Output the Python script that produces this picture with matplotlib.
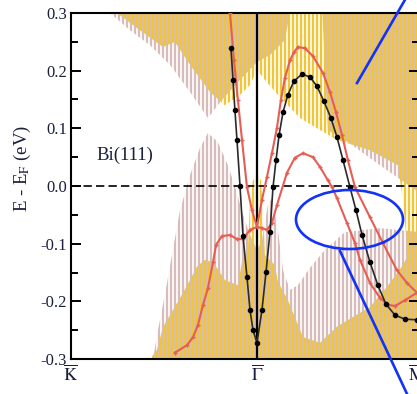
import numpy as np
import matplotlib
matplotlib.use('Agg')
import matplotlib.pyplot as plt
from matplotlib.patches import Polygon, Ellipse
from matplotlib.lines import Line2D

plt.rcParams['font.family'] = ['Liberation Serif', 'DejaVu Serif']
plt.rcParams['mathtext.fontset'] = 'stix'

# k in 1/A (Gamma = 0), energies E - E_F in eV
kK, kG, kM = -0.80, 0.0, 0.688
xtick_k = [kK, kG, kM]
xtick_lab = [r'$\overline{\mathrm{K}}$', r'$\overline{\Gamma}$', r'$\overline{\mathrm{M}}$']
ytick_e = [-0.3, -0.2, -0.1, 0.0, 0.1, 0.2, 0.3]
ytick_lab = ['-0.3', '-0.2', '-0.1', '0.0', '0.1', '0.2', '0.3']

# black surface band
black_k = [-0.112, -0.103, -0.095, -0.086, -0.073, -0.060, -0.043, -0.030, -0.017, 0.0,
           0.0215, 0.039, 0.056, 0.069, 0.082, 0.095, 0.112, 0.133, 0.159, 0.194,
           0.228, 0.258, 0.288, 0.318, 0.344, 0.370, 0.400, 0.426, 0.452, 0.486,
           0.520, 0.555, 0.594, 0.637, 0.688]
black_e = [0.239, 0.184, 0.132, 0.080, 0.0, -0.087, -0.158, -0.215, -0.250, -0.272,
           -0.215, -0.149, -0.080, -0.002, 0.045, 0.088, 0.128, 0.158, 0.182, 0.194,
           0.189, 0.173, 0.147, 0.118, 0.085, 0.045, -0.002, -0.042, -0.085, -0.132,
           -0.172, -0.205, -0.224, -0.231, -0.232]

# red surface bands
red1_k = [-0.116, -0.099, -0.082, -0.0645, -0.043, -0.0215, 0.0, 0.0215, 0.043, 0.0645,
          0.086, 0.103, 0.120, 0.142, 0.159, 0.176, 0.206, 0.241, 0.284, 0.314,
          0.340, 0.366, 0.391, 0.4215, 0.486, 0.542, 0.602, 0.645, 0.688]
red1_e = [0.300, 0.218, 0.149, 0.080, -0.002, -0.042, -0.071, -0.024, 0.016, 0.057,
          0.101, 0.149, 0.187, 0.218, 0.232, 0.241, 0.239, 0.225, 0.196, 0.163,
          0.128, 0.088, 0.045, -0.002, -0.054, -0.099, -0.146, -0.168, -0.185]
red2_k = [-0.353, -0.301, -0.275, -0.254, -0.232, -0.211, -0.189, -0.176, -0.151, -0.116,
          -0.086, -0.060, -0.030, 0.0, 0.0215, 0.043, 0.0645, 0.086, 0.129, 0.163,
          0.198, 0.241, 0.271, 0.305, 0.323, 0.344, 0.387, 0.4215, 0.443, 0.486,
          0.529, 0.563, 0.594, 0.637, 0.688]
red2_e = [-0.289, -0.276, -0.262, -0.241, -0.206, -0.177, -0.132, -0.102, -0.087, -0.085,
          -0.092, -0.092, -0.076, -0.071, -0.073, -0.076, -0.064, -0.033, 0.023, 0.049,
          0.057, 0.050, 0.033, 0.010, -0.002, -0.021, -0.064, -0.099, -0.128, -0.168,
          -0.194, -0.206, -0.208, -0.198, -0.185]

# projected bulk bands: boundaries of the shaded regions
# pink, upper left (lower edge) and upper right (outline)
pu1_k = [-0.632, -0.546, -0.460, -0.374, -0.288, -0.211, -0.151, -0.073, 0.0, 0.056, 0.120, 0.142]
pu1_e = [0.30, 0.270, 0.244, 0.210, 0.163, 0.118, 0.149, 0.184, 0.215, 0.227, 0.253, 0.30]
pu2_k = [0.280, 0.70, 0.70, 0.529, 0.378, 0.305]
pu2_e = [0.31, 0.31, -0.012, 0.036, 0.080, 0.097]
# pink, lower (upper edge)
pl_k = [-0.447, -0.426, -0.396, -0.366, -0.331, -0.288, -0.245, -0.211, -0.168, -0.125,
        -0.090, -0.060, -0.030, 0.0, 0.0215, 0.047, 0.0645, 0.090, 0.112, 0.142,
        0.176, 0.228, 0.292, 0.378, 0.529, 0.70]
pl_e = [-0.30, -0.250, -0.189, -0.120, -0.042, 0.019, 0.066, 0.092, 0.076, 0.036,
        -0.007, -0.050, -0.085, -0.111, -0.094, -0.033, -0.021, -0.076, -0.146, -0.180,
        -0.172, -0.142, -0.111, -0.080, -0.073, -0.080]
# yellow, upper (lower edge)
yu_k = [-0.602, -0.503, -0.404, -0.353, -0.288, -0.202, -0.138, -0.073, -0.030, 0.0,
        0.034, 0.099, 0.185, 0.271, 0.344, 0.486, 0.606, 0.628, 0.649, 0.70]
yu_e = [0.30, 0.270, 0.241, 0.250, 0.210, 0.163, 0.140, 0.158, 0.175, 0.201,
        0.184, 0.154, 0.118, 0.097, 0.080, 0.062, 0.036, -0.024, -0.120, -0.125]
# yellow, lower (upper edge)
yl_k = [-0.460, -0.430, -0.404, -0.361, -0.318, -0.288, -0.258, -0.224, -0.189, -0.138,
        -0.082, -0.0645, -0.039, -0.030, -0.017, 0.0, 0.017, 0.026, 0.034, 0.077,
        0.090, 0.133, 0.198, 0.271, 0.344, 0.413, 0.486, 0.559, 0.628, 0.649, 0.70]
yl_e = [-0.30, -0.284, -0.244, -0.215, -0.185, -0.163, -0.140, -0.128, -0.132, -0.163,
        -0.172, -0.132, -0.111, -0.024, 0.010, 0.019, 0.010, -0.042, -0.120, -0.137,
        -0.166, -0.198, -0.262, -0.272, -0.244, -0.227, -0.210, -0.175, -0.137, -0.120, -0.120]

pink = '#d6bcbb'
yellow = '#f0c536'
red = '#e65d54'
blue = '#1232f5'

W, H = 417, 394
fig = plt.figure(figsize=(W / 100, H / 100), dpi=100)
ax = fig.add_axes([71 / W, 1 - 359 / H, 348 / W, 346 / H])
ax.set_xlim(kK, 0.697)
ax.set_ylim(-0.3, 0.3)

step = 4 * (0.697 - kK) / 348  # stripe period of 4 px
xs = np.arange(kK, 0.70, step)


def stripes(ks, es, x, color):
    poly = Polygon(np.column_stack([ks, es]), closed=True, transform=ax.transData,
                   facecolor='none', edgecolor='none')
    ax.add_patch(poly)
    lc = ax.vlines(x, -0.31, 0.31, colors=color, linewidth=1.65, zorder=1)
    lc.set_clip_path(poly)


stripes(pu1_k + [pu1_k[0]], pu1_e + [0.31], xs, pink)
stripes(pu2_k, pu2_e, xs, pink)
stripes(pl_k + [0.70, pl_k[0]], pl_e + [-0.31, -0.31], xs, pink)
stripes(yu_k + [0.70, yu_k[0]], yu_e + [0.31, 0.31], xs + step / 2, yellow)
stripes(yl_k + [0.70, yl_k[0]], yl_e + [-0.31, -0.31], xs + step / 2, yellow)

ax.axhline(0, color='k', lw=1.2, dashes=(5, 2.5), zorder=2)
ax.axvline(kG, color='k', lw=1.6, zorder=3)

ax.plot(red1_k, red1_e, color=red, lw=1.5, marker='+', ms=3.5, mew=1.0, zorder=4)
ax.plot(red2_k, red2_e, color=red, lw=1.5, marker='+', ms=3.5, mew=1.0, zorder=4)
ax.plot(black_k, black_e, color='#2a2a2a', lw=1.2, marker='o', ms=3.0,
        mfc='k', mec='k', zorder=5)

ax.text(-0.69, 0.053, 'Bi(111)', fontsize=13.5, color='#1a1f3a', ha='left', va='center')

ax.set_yticks(ytick_e)
ax.set_yticklabels(ytick_lab)
ax.set_yticks([-0.25, -0.15, -0.05, 0.05, 0.15, 0.25], minor=True)
ax.tick_params(axis='y', which='both', direction='in', left=True, right=True,
               width=1.4, labelsize=12, labelcolor='#1a1f3a', pad=3)
ax.tick_params(axis='y', which='major', length=7.5)
ax.tick_params(axis='y', which='minor', length=5)
ax.set_xticks(xtick_k)
ax.set_xticklabels(xtick_lab)
ax.tick_params(axis='x', length=0, labelsize=13, labelcolor='#1a1f3a', pad=4)
for s in ax.spines.values():
    s.set_linewidth(1.5)

fig.text(22 / W, 1 - 168 / H, r'E - E$_\mathrm{F}$ (eV)', rotation=90, fontsize=13.5,
         color='#1a1f3a', ha='center', va='center')

# blue annotation marks
fig.add_artist(Line2D([357 / W, 406 / W], [1 - 83 / H, 1 + 2 / H], color=blue, lw=1.9,
                      transform=fig.transFigure))
fig.add_artist(Line2D([340 / W, 408 / W], [1 - 251 / H, 1 - 396 / H], color=blue, lw=1.9,
                      transform=fig.transFigure))
fig.add_artist(Ellipse((349.5 / W, 1 - 219.5 / H), 107 / W, 59 / H, fill=False,
                       edgecolor=blue, lw=1.9, transform=fig.transFigure))

fig.savefig('out.png', dpi=100)
